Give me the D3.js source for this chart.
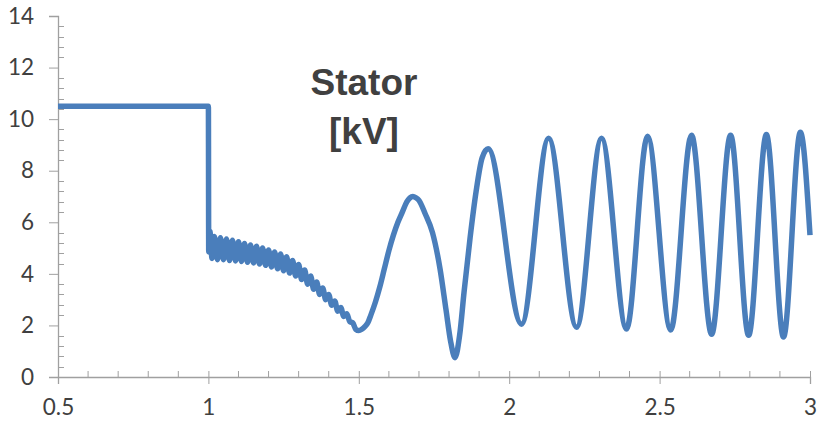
<!DOCTYPE html>
<html>
<head>
<meta charset="utf-8">
<script src="https://cdn.jsdelivr.net/npm/d3@7"></script>
<style>
  body { margin: 0; background: #fff; }
  svg { display: block; }
</style>
</head>
<body>
<script>
// time [s] and stator voltage [kV]
var timeValues = [
  0.5, 1.0, 1.001, 1.005, 1.012, 1.02, 1.03, 1.04, 1.05, 1.06, 1.07, 1.08, 1.09,
  1.10, 1.11, 1.12, 1.13, 1.14, 1.15, 1.16, 1.17, 1.18, 1.19, 1.20, 1.21, 1.22,
  1.23, 1.24, 1.25, 1.26, 1.27, 1.28, 1.29, 1.30, 1.31, 1.32, 1.33, 1.34, 1.35,
  1.36, 1.37, 1.38, 1.39, 1.40, 1.41, 1.42, 1.43, 1.44, 1.45, 1.46, 1.47, 1.48,
  1.49, 1.50, 1.51, 1.52, 1.53, 1.54, 1.555, 1.57, 1.585, 1.60, 1.615, 1.63,
  1.645, 1.66, 1.67, 1.68, 1.69, 1.70, 1.72, 1.745, 1.77, 1.79, 1.805, 1.82,
  1.835, 1.85, 1.87, 1.89, 1.91, 1.93, 2.041, 2.131, 2.224, 2.307, 2.390,
  2.460, 2.537, 2.606, 2.673, 2.736, 2.796, 2.855, 2.912, 2.968, 3.0
];
var statorKV = [
  10.5, 10.5, 4.85, 5.65, 4.6, 5.45, 4.55, 5.4, 4.55, 5.35, 4.52, 5.3, 4.5,
  5.25, 4.48, 5.18, 4.45, 5.12, 4.42, 5.07, 4.38, 5.0, 4.33, 4.93, 4.27, 4.85,
  4.2, 4.77, 4.12, 4.66, 4.03, 4.52, 3.92, 4.36, 3.78, 4.15, 3.6, 3.92, 3.4,
  3.68, 3.2, 3.45, 3.0, 3.2, 2.78, 2.95, 2.55, 2.7, 2.35, 2.45, 2.15, 2.1,
  1.85, 1.8, 1.85, 1.95, 2.1, 2.4, 2.9, 3.5, 4.2, 4.9, 5.5, 6.0,
  6.4, 6.8, 6.95, 7.0, 6.95, 6.85, 6.35, 5.6, 4.2, 2.6, 1.4, 0.75,
  1.6, 3.3, 5.4, 7.2, 8.5, 8.85, 2.05, 9.26, 1.93, 9.26, 1.86,
  9.34, 1.82, 9.38, 1.66, 9.38, 1.62, 9.4, 1.55, 9.49, 5.5
];
var xTicks = [0.5, 1, 1.5, 2, 2.5, 3];
var yTicks = [0, 2, 4, 6, 8, 10, 12, 14];
var titleLines = ["Stator", "[kV]"];

var width = 817, height = 426;
var axisColor = "#a0a0a0";
var textColor = "#404040";
var lineColor = "#4a7ebb";
var labelFont = "22.5px Lato, 'Open Sans', sans-serif";

var x = d3.scaleLinear().domain([0.5, 3]).range([58, 810]);
var y = d3.scaleLinear().domain([0, 14]).range([377, 16]);

var svg = d3.select("body").append("svg")
    .attr("width", width)
    .attr("height", height);

// minor ticks (inside the plot)
var xMinor = d3.range(6, 30).map(d => d / 10).filter(d => Math.abs(d * 2 - Math.round(d * 2)) > 1e-6);
var yMinor = d3.range(0, 35).map(d => d * 0.4).filter(d => d % 2 > 1e-6 && d < 14);

svg.append("g").selectAll("line").data(xMinor).join("line")
    .attr("x1", d => x(d)).attr("x2", d => x(d))
    .attr("y1", y(0)).attr("y2", y(0) - 6)
    .attr("stroke", axisColor).attr("stroke-width", 1);

svg.append("g").selectAll("line").data(yMinor).join("line")
    .attr("x1", x(0.5)).attr("x2", x(0.5) + 6)
    .attr("y1", d => Math.round(y(d)) + 0.5).attr("y2", d => Math.round(y(d)) + 0.5)
    .attr("stroke", axisColor).attr("stroke-width", 1);

// x axis
var xAxis = svg.append("g")
    .attr("transform", `translate(0,${y(0)})`)
    .call(d3.axisBottom(x).tickValues(xTicks).tickSize(7).tickPadding(15).tickFormat(d3.format("")));
xAxis.select(".domain").attr("stroke", axisColor).attr("stroke-width", 1.3);
xAxis.selectAll(".tick line").attr("stroke", axisColor).attr("y1", -6);
xAxis.selectAll(".tick text")
    .attr("fill", textColor)
    .style("font", labelFont);

// y axis
var yAxis = svg.append("g")
    .attr("transform", `translate(${x(0.5)},0)`)
    .call(d3.axisLeft(y).tickValues(yTicks).tickSize(9).tickPadding(15));
yAxis.select(".domain").attr("stroke", axisColor).attr("stroke-width", 1.3);
yAxis.selectAll(".tick line").attr("stroke", axisColor);
yAxis.selectAll(".tick text")
    .attr("fill", textColor)
    .style("font", labelFont);

// the signal
var line = d3.line()
    .x((d, i) => x(timeValues[i]))
    .y(d => y(d))
    .curve(d3.curveMonotoneX);

svg.append("path")
    .datum(statorKV)
    .attr("d", line)
    .attr("fill", "none")
    .attr("stroke", lineColor)
    .attr("stroke-width", 5.5)
    .attr("stroke-linejoin", "round");

// title in the plot
svg.append("text")
    .attr("x", 364)
    .attr("y", 95)
    .attr("text-anchor", "middle")
    .attr("fill", textColor)
    .style("font", "bold 37px 'Liberation Sans', Arial, sans-serif")
    .selectAll("tspan").data(titleLines).join("tspan")
    .attr("x", 364)
    .attr("dy", (d, i) => i ? 49 : 0)
    .text(d => d);
</script>
</body>
</html>
